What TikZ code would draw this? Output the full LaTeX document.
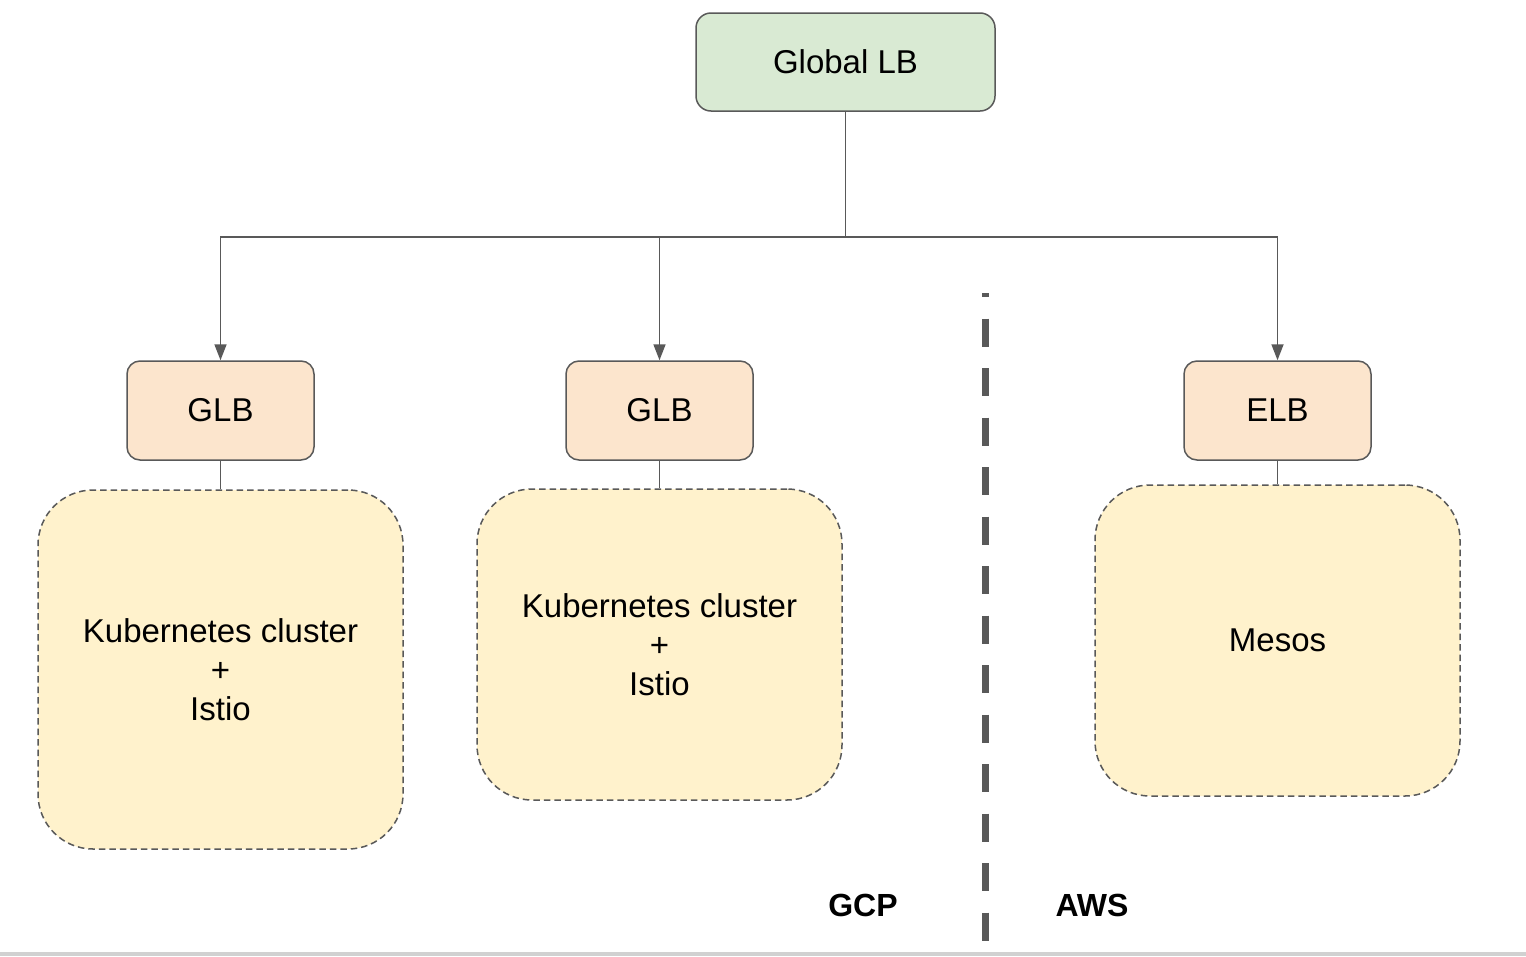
\documentclass[tikz,border=0pt]{standalone}
\usepackage{fontspec}
\setmainfont{Liberation Sans}
\usetikzlibrary{arrows.meta}
\definecolor{strokeg}{HTML}{595959}
\definecolor{greenf}{HTML}{D9EAD3}
\definecolor{peachf}{HTML}{FCE5CD}
\definecolor{yellowf}{HTML}{FFF2CC}
\tikzset{
  basefont/.style={font=\fontsize{33}{39}\selectfont},
  topbox/.style={draw=strokeg, fill=greenf, line width=1.5pt, rounded corners=15pt,
    minimum width=299pt, minimum height=98pt, inner sep=0pt, basefont},
  lbbox/.style={draw=strokeg, fill=peachf, line width=1.5pt, rounded corners=13pt,
    minimum width=187pt, minimum height=99pt, inner sep=0pt, basefont},
  clusterbox/.style={draw=strokeg, fill=yellowf, line width=1.5pt, dash pattern=on 6.5pt off 4pt,
    rounded corners=55pt, minimum width=365pt, inner sep=0pt, align=center, basefont},
  link/.style={draw=strokeg, line width=1.7pt},
  arrowlink/.style={link, -{Triangle[width=12pt,length=16pt]}},
  separator/.style={draw=strokeg, line width=7pt, dash pattern=on 28pt off 21.5pt, dash phase=24pt},
  cloudlabel/.style={font=\fontsize{32}{39}\selectfont\bfseries}
}
\begin{document}
\begin{tikzpicture}[x=1pt, y=-1pt]
\useasboundingbox (0,0) rectangle (1526,956);
\fill[white] (0,0) rectangle (1526,956);
\fill[black!18] (0,952) rectangle (1526,956);

\node[topbox] (glob) at (845.5,62) {\raisebox{-1pt}{Global LB}};

\node[lbbox] (glb1) at (220.5,410.5) {\raisebox{-1pt}{GLB}};
\node[lbbox] (glb2) at (659.5,410.5) {\raisebox{-1pt}{GLB}};
\node[lbbox] (elb) at (1277.5,410.5) {\raisebox{-1pt}{ELB}};

\node[clusterbox, minimum height=359pt] (k1) at (220.5,669.5) {Kubernetes cluster\\+\\Istio};
\node[clusterbox, minimum height=311pt] (k2) at (659.5,644.5) {Kubernetes cluster\\+\\Istio};
\node[clusterbox, minimum height=311pt] (mesos) at (1277.5,640.5) {Mesos};

\draw[arrowlink] (glob.south) -- ++(0,125) -| (glb1.north);
\draw[arrowlink] (glob.south) -- ++(0,125) -| (glb2.north);
\draw[arrowlink] (glob.south) -- ++(0,125) -| (elb.north);

\draw[link] (glb1.south) -- (k1.north);
\draw[link] (glb2.south) -- (k2.north);
\draw[link] (elb.south) -- (mesos.north);

\coordinate (septop) at (985,293);
\coordinate (sepbot) at (985,941);
\draw[separator] (septop) -- (sepbot);

\node[cloudlabel] (gcp) at (863,905) {GCP};
\node[cloudlabel] (aws) at (1092,905) {AWS};
\end{tikzpicture}
\end{document}
